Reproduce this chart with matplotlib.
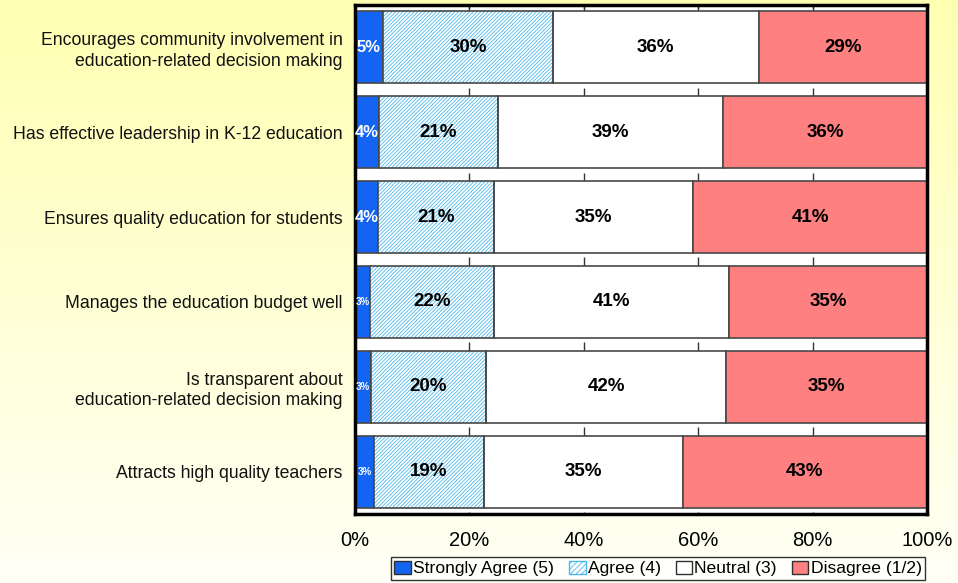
import numpy as np
import matplotlib
matplotlib.use("Agg")
import matplotlib.pyplot as plt
from matplotlib.patches import Patch

plt.rcParams['font.family'] = ['Liberation Sans', 'DejaVu Sans']
plt.rcParams['hatch.linewidth'] = 0.6

categories = [
    "Encourages community involvement in\neducation-related decision making",
    "Has effective leadership in K-12 education",
    "Ensures quality education for students",
    "Manages the education budget well",
    "Is transparent about\neducation-related decision making",
    "Attracts high quality teachers",
]
series_names = ["Strongly Agree (5)", "Agree (4)", "Neutral (3)", "Disagree (1/2)"]
strongly_agree = [4.9, 4.2, 4.0, 2.6, 2.8, 3.3]
agree = [29.7, 20.8, 20.3, 21.7, 20.1, 19.3]
neutral = [36.0, 39.3, 34.8, 41.1, 42.0, 34.7]
disagree = [29.4, 35.7, 40.9, 34.6, 35.1, 42.7]
label_sa = ["5%", "4%", "4%", "3%", "3%", "3%"]
label_ag = ["30%", "21%", "21%", "22%", "20%", "19%"]
label_ne = ["36%", "39%", "35%", "41%", "42%", "35%"]
label_di = ["29%", "36%", "41%", "35%", "35%", "43%"]
x_ticks = [0, 20, 40, 60, 80, 100]
x_tick_labels = ["0%", "20%", "40%", "60%", "80%", "100%"]

W, H = 958, 583
fig = plt.figure(figsize=(W / 100, H / 100), dpi=100)

# background gradient
bg = fig.add_axes([0, 0, 1, 1], zorder=-10)
grad = np.linspace(0, 1, 256)[:, None]
top = np.array([255, 255, 178]) / 255
bot = np.array([255, 255, 246]) / 255
img = top[None, None, :] * (1 - grad[:, :, None]) + bot[None, None, :] * grad[:, :, None]
bg.imshow(img, aspect='auto', extent=[0, 1, 0, 1])
bg.set_axis_off()

left, right, top_px, bot_px = 355, 927, 5, 514
ax = fig.add_axes([left / W, (H - bot_px) / H, (right - left) / W, (bot_px - top_px) / H])
ax.set_facecolor('white')

y = np.arange(len(categories))
h = 0.85
edge = '#484848'
sa = np.array(strongly_agree)
ag = np.array(agree)
ne = np.array(neutral)
di = np.array(disagree)

ax.barh(y, sa, height=h, color='#1464F4', edgecolor=edge, linewidth=1.2, zorder=2)
ax.barh(y, ag, left=sa, height=h, color='white', edgecolor='#4DB8EC',
        linewidth=0, hatch='/////////', zorder=2)
ax.barh(y, ag, left=sa, height=h, color='none', edgecolor=edge, linewidth=1.2, zorder=3)
ax.barh(y, ne, left=sa + ag, height=h, color='white', edgecolor=edge, linewidth=1.2, zorder=2)
ax.barh(y, di, left=sa + ag + ne, height=h, color='#FF8080', edgecolor=edge, linewidth=1.2, zorder=2)

for i in range(len(categories)):
    fs = 12 if sa[i] >= 3.5 else 7
    ax.text(sa[i] / 2, y[i], label_sa[i], ha='center', va='center', color='white',
            fontsize=fs, fontweight='bold', zorder=5)
    ax.text(sa[i] + ag[i] / 2, y[i], label_ag[i], ha='center', va='center', color='black',
            fontsize=13.5, fontweight='bold', zorder=5)
    ax.text(sa[i] + ag[i] + ne[i] / 2, y[i], label_ne[i], ha='center', va='center', color='black',
            fontsize=13.5, fontweight='bold', zorder=5)
    ax.text(sa[i] + ag[i] + ne[i] + di[i] / 2, y[i], label_di[i], ha='center', va='center',
            color='black', fontsize=13.5, fontweight='bold', zorder=5)

ax.set_xlim(0, 100)
ax.set_ylim(len(categories) - 0.5, -0.5)

# small tick marks at the gaps between bars
for xt in x_ticks[1:-1]:
    for i in range(len(categories) + 1):
        yb = i - h / 2
        ax.plot([xt, xt], [yb, yb - 0.1], color='#333333', lw=1.0, zorder=1,
                solid_capstyle='butt')
    ax.plot([xt, xt], [-0.5, -0.46], color='#333333', lw=1.0, zorder=1)

ax.set_xticks(x_ticks)
ax.set_xticklabels(x_tick_labels, fontsize=14.5)
ax.tick_params(axis='x', length=0, pad=12)
ax.set_yticks(y)
ax.set_yticklabels(categories, fontsize=12.7, multialignment='right', color='#111111',
                   linespacing=1.25)
ax.tick_params(axis='y', length=0, pad=9)
for s in ax.spines.values():
    s.set_linewidth(2.5)
    s.set_color('black')

handles = [
    Patch(facecolor='#1464F4', edgecolor='#303030', label=series_names[0]),
    Patch(facecolor='white', edgecolor='#4DB8EC', hatch='//////', label=series_names[1]),
    Patch(facecolor='white', edgecolor='#303030', label=series_names[2]),
    Patch(facecolor='#FF8080', edgecolor='#303030', label=series_names[3]),
]
leg = fig.legend(handles=handles, loc='center', bbox_to_anchor=(658 / W, 1 - 568.5 / H),
                 ncol=4, fontsize=12.6, frameon=True, fancybox=False, edgecolor='black',
                 handlelength=0.95, handleheight=0.8, handletextpad=0.12, columnspacing=0.85,
                 borderpad=0.2, borderaxespad=0)
leg.get_frame().set_linewidth(1.0)
leg.get_frame().set_facecolor('white')

fig.savefig('out.png', dpi=100)
